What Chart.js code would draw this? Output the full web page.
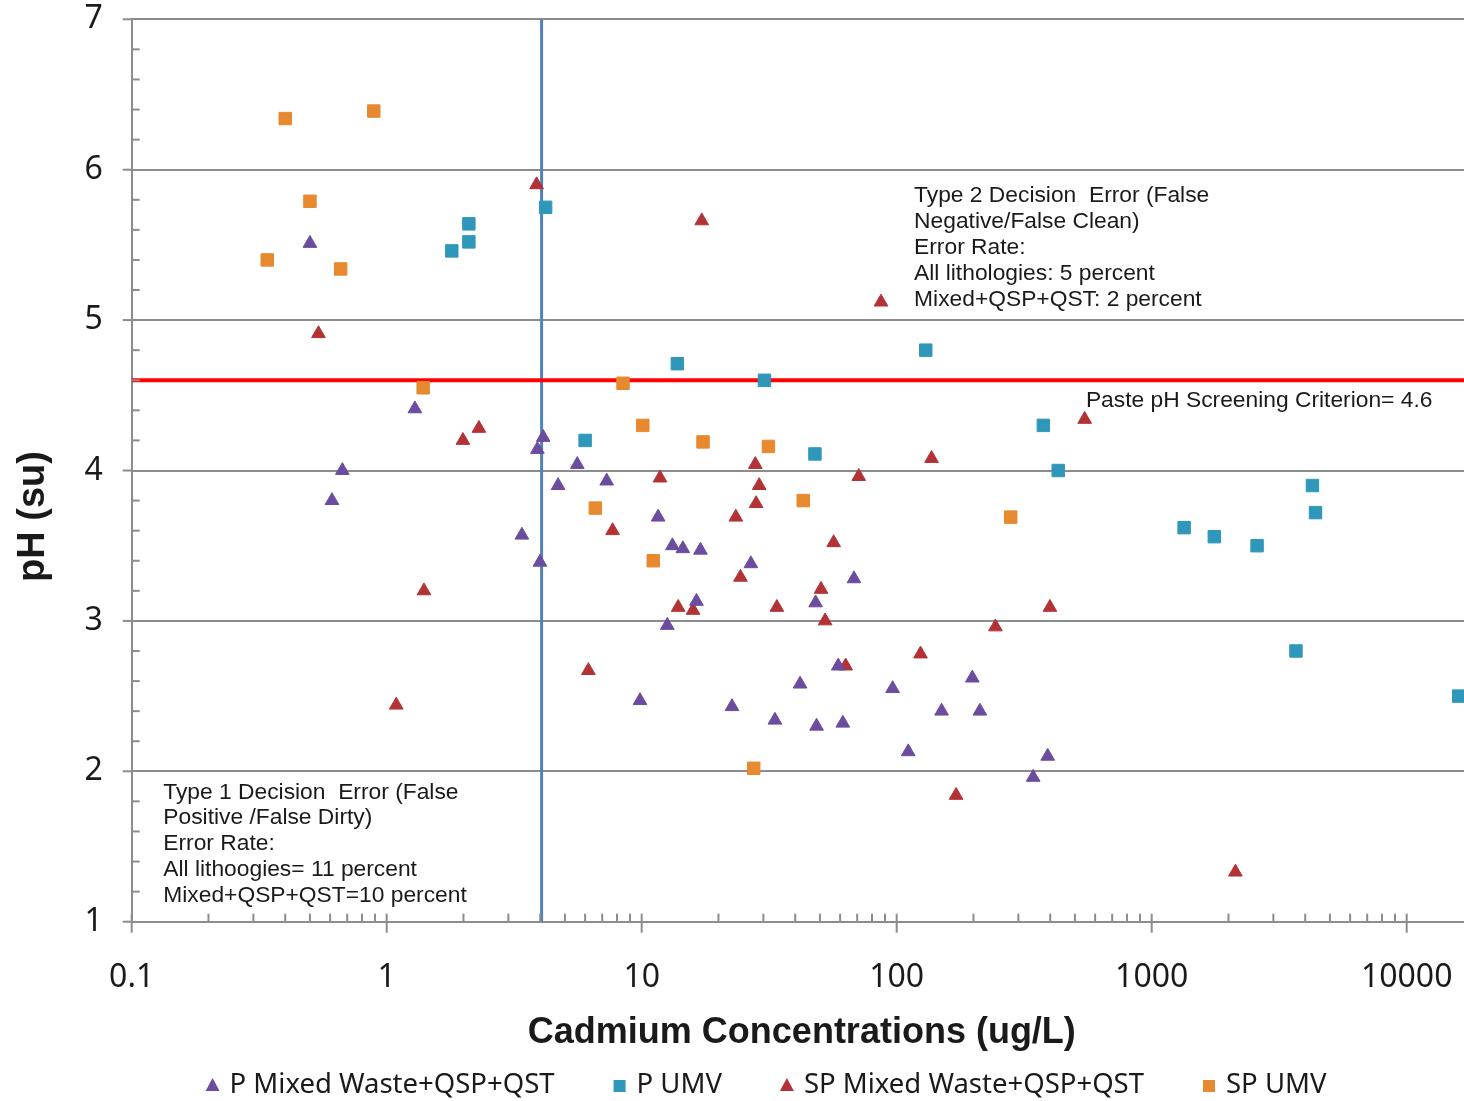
<!DOCTYPE html>
<html>
<head>
<meta charset="utf-8">
<script src="https://cdn.jsdelivr.net/npm/chart.js@4/dist/chart.umd.min.js"></script>
<style>
html,body{margin:0;padding:0;background:#fff;}
#wrap{width:1464px;height:1101px;position:relative;}
</style>
</head>
<body>
<div id="wrap"><canvas id="c" width="1464" height="1101"></canvas></div>
<script>
// ---- data (x = Cadmium ug/L, y = pH su) ----
const pMixedX  = [0.50, 1.29, 0.67, 0.61, 4.11, 3.90, 5.59, 4.70, 7.29, 3.39, 3.99, 11.6, 13.2, 14.5, 17.0, 26.8, 68.0, 16.4, 48.1, 12.6, 59.0, 41.8, 96.4, 198, 9.85, 22.6, 150, 212, 33.3, 48.5, 61.5, 111, 391, 343];
const pMixedY  = [5.51, 4.41, 4.00, 3.80, 4.22, 4.14, 4.04, 3.90, 3.93, 3.57, 3.39, 3.69, 3.50, 3.48, 3.47, 3.38, 3.28, 3.13, 3.12, 2.97, 2.70, 2.58, 2.55, 2.62, 2.47, 2.43, 2.40, 2.40, 2.34, 2.30, 2.32, 2.13, 2.10, 1.96];
const pUmvX    = [1.80, 2.10, 2.10, 4.20, 13.8, 30.3, 130, 6.0, 47.8, 376, 430, 4270, 4390, 1340, 1760, 2590, 3680, 16000];
const pUmvY    = [5.46, 5.64, 5.52, 5.75, 4.71, 4.60, 4.80, 4.20, 4.11, 4.30, 4.00, 3.90, 3.72, 3.62, 3.56, 3.50, 2.80, 2.50];
const spMixedX = [0.54, 3.87, 17.2, 86.8, 1.99, 2.30, 1.40, 1.09, 11.8, 27.9, 28.9, 28.1, 23.4, 71.0, 137, 7.69, 56.6, 24.4, 50.5, 13.9, 15.9, 33.9, 52.4, 244, 6.18, 124, 63.1, 546, 399, 171, 2130];
const spMixedY = [4.91, 5.90, 5.66, 5.12, 4.20, 4.28, 3.20, 2.44, 3.95, 4.04, 3.90, 3.78, 3.69, 3.96, 4.08, 3.60, 3.52, 3.29, 3.21, 3.09, 3.07, 3.09, 3.00, 2.96, 2.67, 2.78, 2.70, 4.34, 3.09, 1.84, 1.33];
const spUmvX   = [0.40, 0.89, 0.50, 0.34, 0.66, 1.39, 8.45, 10.1, 17.4, 31.4, 6.58, 43.0, 11.1, 27.5, 280];
const spUmvY   = [6.34, 6.39, 5.79, 5.40, 5.34, 4.55, 4.58, 4.30, 4.19, 4.16, 3.75, 3.80, 3.40, 2.02, 3.69];

const seriesNames = ['P Mixed Waste+QSP+QST', 'P UMV', 'SP Mixed Waste+QSP+QST', 'SP UMV'];
const xTickValues = [0.1, 1, 10, 100, 1000, 10000];
const yTickValues = [1, 2, 3, 4, 5, 6, 7];
const xRange = [0.1, 16780];
const yRange = [1, 7];
const phCriterion = 4.6;
const cdCriterion = 4.05;
const xTitle = 'Cadmium Concentrations (ug/L)';
const yTitle = 'pH (su)';
const phLabel = 'Paste pH Screening Criterion= 4.6';
const type2Lines = ['Type 2 Decision  Error (False', 'Negative/False Clean)', 'Error Rate:', 'All lithologies: 5 percent', 'Mixed+QSP+QST: 2 percent'];
const type1Lines = ['Type 1 Decision  Error (False', 'Positive /False Dirty)', 'Error Rate:', 'All lithoogies= 11 percent', 'Mixed+QSP+QST=10 percent'];

const zip = (xs, ys) => xs.map((x, i) => ({x, y: ys[i]}));
const GRID = '#8c8c8c';
const AREA = {left: 131.7, top: 19.3, right: 1464, bottom: 921.7};

function scatterDs(label, xs, ys, style, color, r) {
  return {type: 'scatter', label, data: zip(xs, ys), pointStyle: style,
    pointRadius: r, pointHoverRadius: r, backgroundColor: color, borderColor: color,
    borderWidth: 1, order: 0, clip: false};
}

const datasets = [
  {type: 'line', label: '_ph', data: [{x: xRange[0], y: phCriterion}, {x: xRange[1], y: phCriterion}],
   borderColor: '#ff0000', borderWidth: 4, pointRadius: 0, order: 10, legendHide: true},
  {type: 'line', label: '_cd', data: [{x: cdCriterion, y: yRange[0]}, {x: cdCriterion, y: yRange[1]}],
   borderColor: '#4f81bd', borderWidth: 3, pointRadius: 0, order: 10, legendHide: true},
  scatterDs(seriesNames[0], pMixedX, pMixedY, 'triangle', '#6b4c9e', 7.9),
  scatterDs(seriesNames[1], pUmvX, pUmvY, 'rect', '#2f98ba', 8.8),
  scatterDs(seriesNames[2], spMixedX, spMixedY, 'triangle', '#b23236', 7.9),
  scatterDs(seriesNames[3], spUmvX, spUmvY, 'rect', '#e6892f', 8.8),
];

const decor = {
  id: 'decor',
  afterDatasetsDraw(chart) {
    const ctx = chart.ctx, xs = chart.scales.x, ys = chart.scales.y, a = chart.chartArea;
    ctx.save();
    ctx.strokeStyle = GRID; ctx.lineWidth = 2;
    for (let v = yRange[0]; v <= yRange[1]; v++) {
      const py0 = ys.getPixelForValue(v);
      ctx.beginPath(); ctx.moveTo(a.left - 9, py0); ctx.lineTo(a.left, py0); ctx.stroke();
      if (v === yRange[1]) break;
      for (let k = 1; k < 5; k++) {
        const py = ys.getPixelForValue(v + k * 0.2);
        ctx.beginPath(); ctx.moveTo(a.left, py); ctx.lineTo(a.left + 8, py); ctx.stroke();
      }
    }
    for (let d = 0.1; d <= xRange[1]; d *= 10) {
      const px = xs.getPixelForValue(d);
      ctx.beginPath(); ctx.moveTo(px, a.bottom - 8); ctx.lineTo(px, a.bottom + 11); ctx.stroke();
      for (let m = 2; m <= 9; m++) {
        const v = d * m; if (v > xRange[1]) break;
        const p = xs.getPixelForValue(v);
        ctx.beginPath(); ctx.moveTo(p, a.bottom - 8); ctx.lineTo(p, a.bottom); ctx.stroke();
      }
    }
    ctx.restore();
  },
  afterDraw(chart) {
    const ctx = chart.ctx, xs = chart.scales.x, ys = chart.scales.y, a = chart.chartArea;
    ctx.save();
    ctx.fillStyle = '#1a1a1a';
    ctx.textBaseline = 'middle'; ctx.textAlign = 'left';
    ctx.font = '22.8px "Liberation Sans", Arial, sans-serif';
    let x0 = xs.getPixelForValue(117), y0 = ys.getPixelForValue(5.83);
    type2Lines.forEach((t, i) => ctx.fillText(t, x0, y0 + i * 26));
    x0 = xs.getPixelForValue(0.133); y0 = ys.getPixelForValue(1.86);
    type1Lines.forEach((t, i) => ctx.fillText(t, x0, y0 + i * 25.8));
    ctx.fillText(phLabel, xs.getPixelForValue(552), ys.getPixelForValue(phCriterion) + 20);
    ctx.font = 'bold 36px "Liberation Sans", Arial, sans-serif';
    ctx.textAlign = 'center';
    ctx.fillText(xTitle, (a.left + a.right) / 2 + 4, a.bottom + 111);
    ctx.save();
    ctx.translate(34, (a.top + a.bottom) / 2 + 46);
    ctx.rotate(-Math.PI / 2);
    ctx.font = 'bold 38px "Liberation Sans", Arial, sans-serif';
    ctx.fillText(yTitle, 0, 0);
    ctx.restore();
    ctx.font = '27.5px "Noto Sans", sans-serif';
    const items = chart.data.datasets.filter(d => !d.legendHide);
    const mark = 14, gap = 10, sep = 58;
    const widths = items.map(d => mark + gap + ctx.measureText(d.label).width);
    const total = widths.reduce((s, w) => s + w, 0) + sep * (items.length - 1);
    let lx = 766 - total / 2; const ly = 1085;
    ctx.textAlign = 'left';
    items.forEach((d, i) => {
      ctx.fillStyle = d.backgroundColor;
      const cx = lx + mark / 2;
      if (d.pointStyle === 'triangle') {
        ctx.beginPath(); ctx.moveTo(cx, ly - 7); ctx.lineTo(cx + 7, ly + 6); ctx.lineTo(cx - 7, ly + 6); ctx.closePath(); ctx.fill();
      } else {
        ctx.fillRect(cx - 6, ly - 5, 12, 12);
      }
      ctx.fillStyle = '#1a1a1a';
      ctx.fillText(d.label, lx + mark + gap, ly);
      lx += widths[i] + sep;
    });
    ctx.restore();
  }
};

const chart = new Chart(document.getElementById('c'), {
  data: {datasets},
  options: {
    responsive: false, animation: false, devicePixelRatio: 1,
    layout: {autoPadding: false, padding: {top: AREA.top, right: 0, bottom: 0, left: 0}},
    plugins: {legend: {display: false}, tooltip: {enabled: false}},
    scales: {
      x: {
        type: 'logarithmic', min: xRange[0], max: xRange[1],
        afterBuildTicks: s => { s.ticks = xTickValues.map(v => ({value: v})); },
        afterFit: s => { s.height = 1101 - AREA.bottom; },
        ticks: {autoSkip: false, maxRotation: 0, padding: 0, color: '#1a1a1a',
          font: {family: '"Noto Sans", sans-serif', size: 32},
          callback: v => String(v)},
        grid: {display: true, drawOnChartArea: false, drawTicks: true, tickLength: 37, tickColor: 'rgba(0,0,0,0)'},
        border: {display: true, color: GRID, width: 2}
      },
      y: {
        type: 'linear', min: yRange[0], max: yRange[1],
        afterBuildTicks: s => { s.ticks = yTickValues.map(v => ({value: v})); },
        afterFit: s => { s.width = AREA.left; },
        ticks: {padding: 0, color: '#1a1a1a', font: {family: '"Noto Sans", sans-serif', size: 32}},
        grid: {color: GRID, lineWidth: 2, tickLength: 29, drawTicks: true, tickColor: 'rgba(0,0,0,0)'},
        border: {display: true, color: GRID, width: 2}
      }
    }
  },
  plugins: [decor]
});
</script>
</body>
</html>
